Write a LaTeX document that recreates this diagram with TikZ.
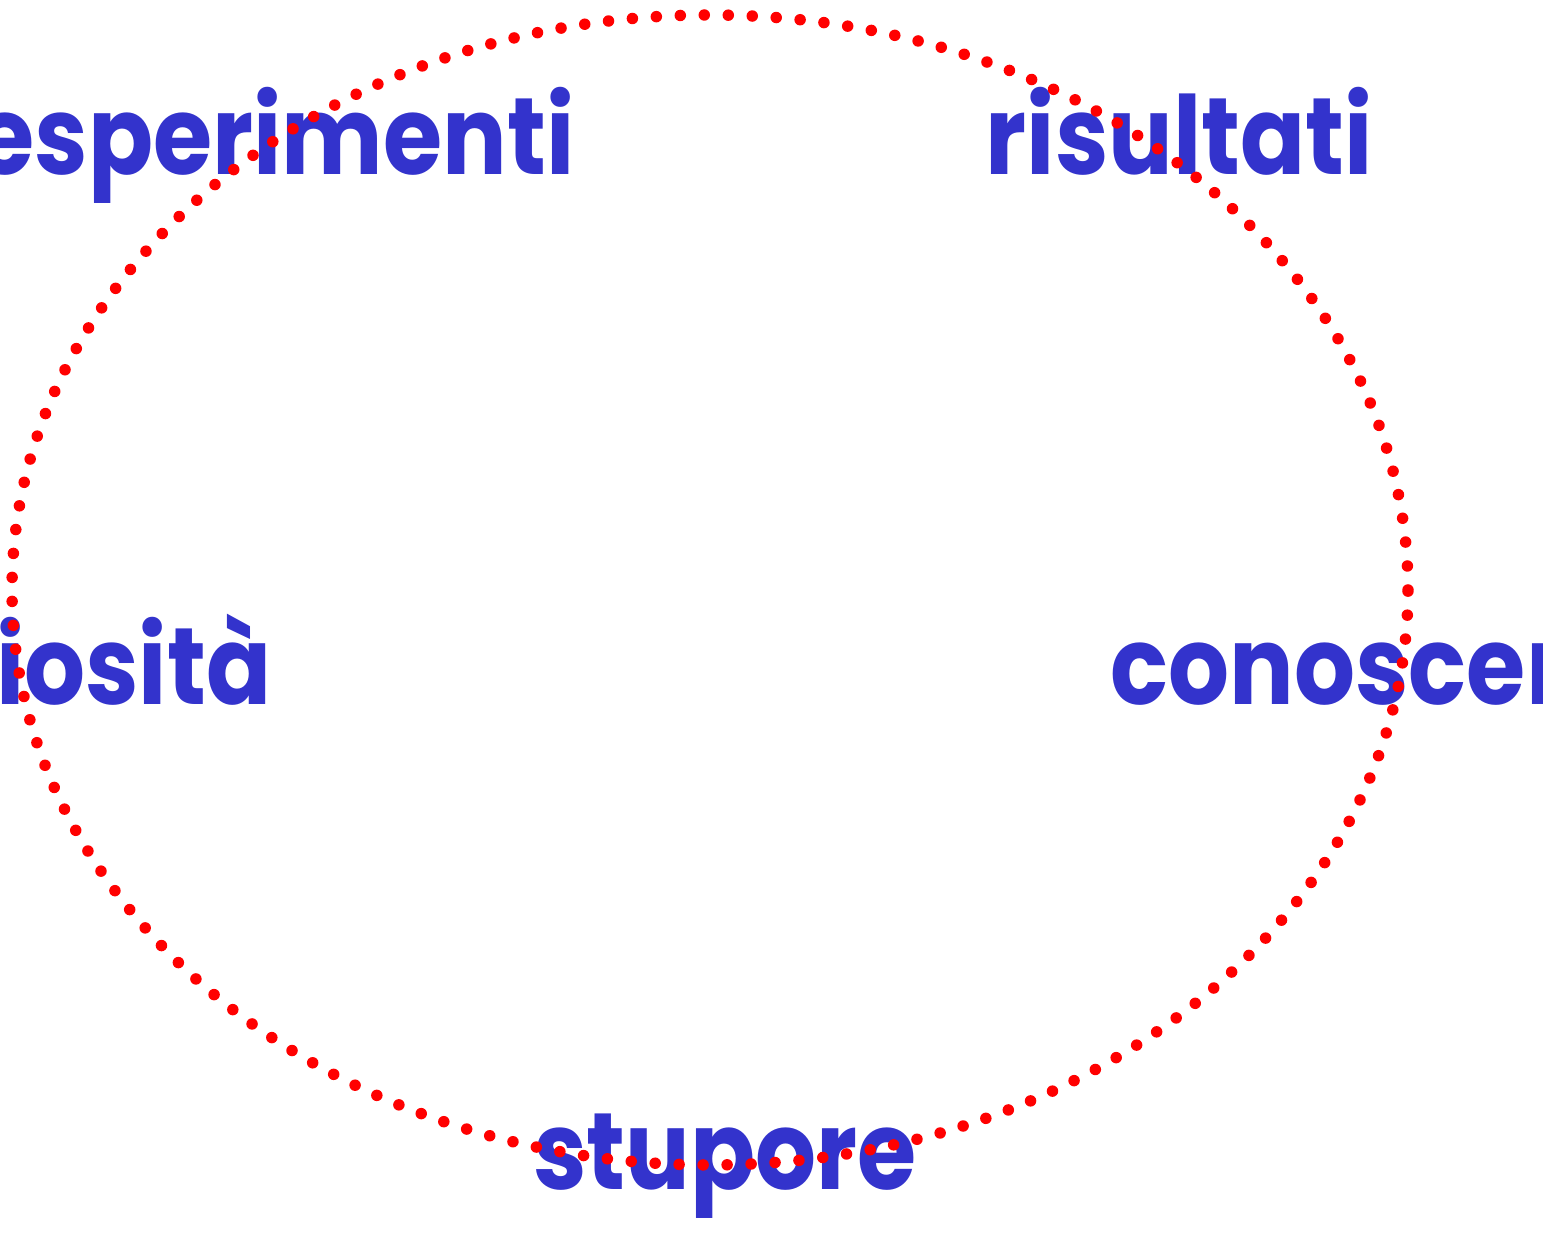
\documentclass[tikz,border=0pt]{standalone}
\usepackage{fontspec}
\setmainfont{Poppins}
\newfontfamily\wordfont{Poppins}[FakeStretch=0.88]
\usepackage{tikz}

\definecolor{wordblue}{RGB}{51,51,204}

\begin{document}
\begin{tikzpicture}[scale=1]

% Styles
\tikzset{
  word/.style={wordblue, font=\wordfont\fontsize{31}{31}\selectfont\bfseries, inner sep=0pt},
  dots/.style={red, line width=1.15mm, line cap=round, dash pattern=on 0pt off 2.4mm}
}

% Page (1543 x 1242)
\useasboundingbox (0,0) rectangle (15.43,12.42);
\clip (0,0) rectangle (15.43,12.42);

% Coordinates
\coordinate (C) at (7.10,6.52); % centre of the ring

% Words round the ring
\node[word, anchor=base east] (esp) at (5.75,10.67) {esperimenti};
\node[word, anchor=base west] (ris) at (9.85,10.67) {risultati};
\node[word, anchor=base west] (con) at (11.10,5.37) {conoscenza};
\node[word, anchor=base] (stu) at (7.25,0.52) {stupore};
\node[word, anchor=base east] (cur) at (2.72,5.37) {curiosità};

% Dotted ring
\draw[dots] (C) ellipse [x radius=6.98, y radius=5.75];

\end{tikzpicture}
\end{document}
